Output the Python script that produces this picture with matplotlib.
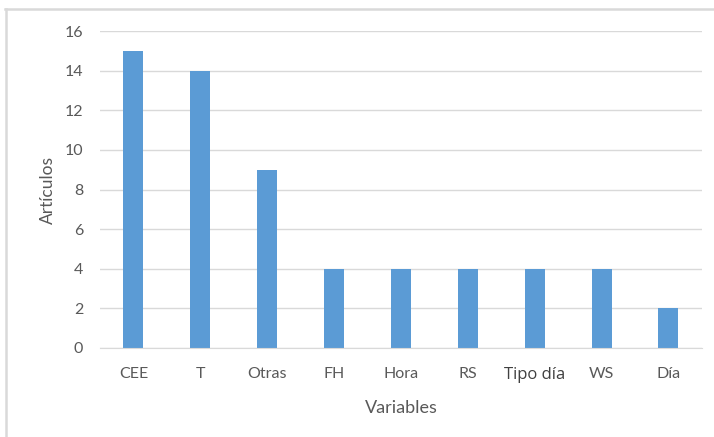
import matplotlib
matplotlib.use("Agg")
import matplotlib.pyplot as plt
import numpy as np
from matplotlib.lines import Line2D

categories = ["CEE", "T", "Otras", "FH", "Hora", "RS", "Tipo día", "WS", "Día"]
articulos = [15, 14, 9, 4, 4, 4, 4, 4, 2]
y_ticks = [0, 2, 4, 6, 8, 10, 12, 14, 16]

bar_color = '#5b9bd5'
text_gray = '#595959'
grid_gray = '#d9d9d9'

plt.rcParams['font.family'] = ['Lato', 'DejaVu Sans']

fig = plt.figure(figsize=(7.14, 4.37), dpi=100)
ax = fig.add_axes([0.140, 0.2037, 0.843, 0.7253])

x = np.arange(len(categories))
ax.bar(x, articulos, width=0.3, color=bar_color, zorder=2)

ax.set_xlim(-0.5, len(categories) - 0.5)
ax.set_ylim(0, 16)
ax.set_yticks(y_ticks)
ax.set_yticklabels([str(t) for t in y_ticks], fontsize=11.5, color=text_gray)
ax.set_xticks(x)
ax.set_xticklabels(categories, fontsize=11.5, color=text_gray)

# "Tipo día" label is drawn in a different, larger font in the original
for lbl in ax.get_xticklabels():
    if lbl.get_text() == "Tipo día":
        lbl.set_fontfamily(['Open Sans', 'DejaVu Sans'])
        lbl.set_fontsize(12)
        lbl.set_color('#404040')

ax.grid(axis='y', color=grid_gray, linewidth=1, zorder=1)
ax.tick_params(axis='x', length=0, pad=14)
ax.tick_params(axis='y', length=0, pad=12)

for side in ['top', 'right', 'left']:
    ax.spines[side].set_visible(False)
ax.spines['bottom'].set_color(grid_gray)

ax.set_xlabel('Variables', fontsize=13, color=text_gray, labelpad=12)
ax.set_ylabel('Artículos', fontsize=12.5, color=text_gray, labelpad=6)

# light chart-area border (top and left edges visible in the crop)
fig.add_artist(Line2D([5 / 714, 1], [1 - 9 / 437, 1 - 9 / 437], transform=fig.transFigure,
                      color=grid_gray, linewidth=1.8))
fig.add_artist(Line2D([6 / 714, 6 / 714], [0, 1 - 9 / 437], transform=fig.transFigure,
                      color=grid_gray, linewidth=1.8))

plt.savefig('out.png', dpi=100)
